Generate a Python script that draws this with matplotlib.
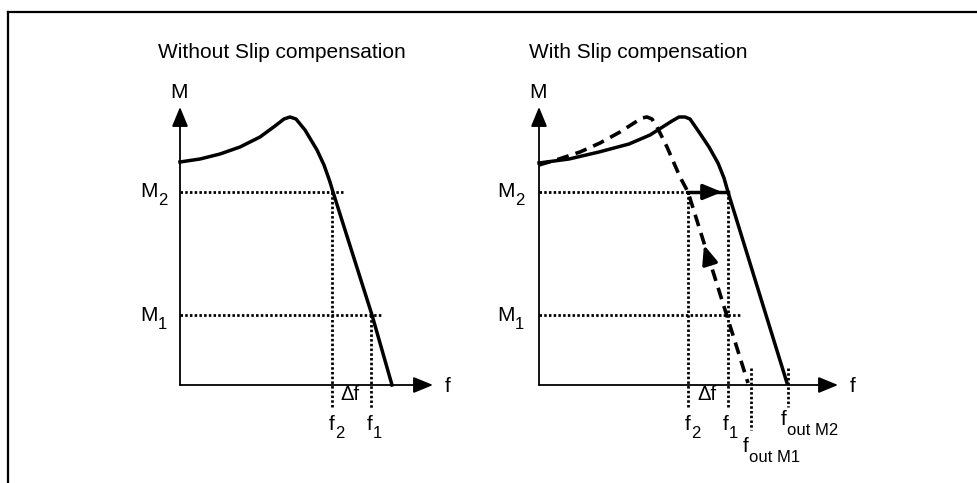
import matplotlib.pyplot as plt
from matplotlib.lines import Line2D

plt.rcParams['font.family'] = ['Liberation Sans', 'DejaVu Sans']

# torque curves (f, M) in diagram units, origin at the axis crossing
left_f = [0, 20, 40, 60, 80, 95, 104, 110, 116, 125, 137, 144, 150, 153, 192, 212]
left_M = [223, 226, 231, 238, 248, 259, 266, 268, 266, 255, 235, 220, 203, 193, 70, 0]

solid_f = [0, 30, 60, 90, 111, 122, 133, 140, 146, 151, 160, 170, 179, 185, 189, 248]
solid_M = [222, 226, 233, 241, 250, 257, 264, 268, 268, 266, 253, 238, 222, 207, 193, 2]

dash_f = [0, 20, 41, 61, 81, 95, 103, 108, 113, 118, 128, 141, 149, 209]
dash_M = [220, 226, 233, 242, 253, 262, 267, 268, 266, 258, 238, 208, 193, 2]

M1, M2 = 70, 193
left_f1, left_f2 = 191, 152
right_f1, right_f2 = 189, 149
f_out_M1, f_out_M2 = 212, 249

titles = ["Without Slip compensation", "With Slip compensation"]

fig = plt.figure(figsize=(9.77, 4.83), dpi=100)

# frame lines (top and left)
fig.add_artist(Line2D([8 / 977, 1], [1 - 12 / 483] * 2, color='black', lw=1.6))
fig.add_artist(Line2D([8 / 977] * 2, [0, 1 - 12 / 483], color='black', lw=1.6))

axL = fig.add_axes([0, 0, 488 / 977, 1])
axL.set_xlim(-180, 308)
axL.set_ylim(-98, 385)
axR = fig.add_axes([488 / 977, 0, 489 / 977, 1])
axR.set_xlim(-51, 438)
axR.set_ylim(-98, 385)

head = dict(arrowstyle='-|>,head_length=0.8,head_width=0.33', mutation_scale=15,
            color='black', lw=1.3, shrinkA=0, shrinkB=0)
dot = dict(color='black', lw=2.0, linestyle=(0, (0.9, 0.8)))
fs = 15


def sub_label(ax, x, y, main, sub, drop=3.0):
    t = ax.text(x, y, main, fontsize=fs, ha='left', va='baseline')
    ax.annotate(sub, xy=(1, 0), xycoords=t, xytext=(0.3, -drop),
                textcoords='offset points', fontsize=fs * 0.8,
                ha='left', va='baseline')


def axes_frame(ax, x_end, title, title_x, label_x):
    ax.set_axis_off()
    ax.annotate('', xy=(0, 278), xytext=(0, 0), arrowprops=head)
    ax.annotate('', xy=(x_end, 0), xytext=(0, 0), arrowprops=head)
    ax.text(-1, 292, 'M', fontsize=fs, ha='center', va='center')
    ax.text(x_end + 15, -2, 'f', fontsize=fs, ha='center', va='center')
    ax.text(title_x, 327, title, fontsize=fs, ha='left', va='baseline')
    sub_label(ax, label_x, M2 - 5, 'M', '2')
    sub_label(ax, label_x, M1 - 6, 'M', '1')


# left panel
axes_frame(axL, 253, titles[0], -22, -40)
axL.plot([0, 163], [M2, M2], **dot)
axL.plot([0, 203], [M1, M1], **dot)
axL.plot([left_f2, left_f2], [M2, -23], **dot)
axL.plot([left_f1, left_f1], [M1, -23], **dot)
axL.plot(left_f, left_M, color='black', lw=2.5, solid_joinstyle='round')
sub_label(axL, 149, -45, 'f', '2')
sub_label(axL, 187, -45, 'f', '1')
axL.text(170, -15, 'Δf', fontsize=14.5, ha='center', va='baseline')

# right panel
axes_frame(axR, 299, titles[1], -10, -42)
axR.plot([0, right_f2], [M2, M2], **dot)
axR.plot([0, 201], [M1, M1], **dot)
axR.plot([right_f2, right_f2], [M2, -23], **dot)
axR.plot([right_f1, right_f1], [M2, -23], **dot)
axR.plot([f_out_M1, f_out_M1], [17, -45], **dot)
axR.plot([f_out_M2, f_out_M2], [17, -22], **dot)
axR.plot(solid_f, solid_M, color='black', lw=2.5, solid_joinstyle='round')
axR.plot(dash_f, dash_M, color='black', lw=2.6, linestyle=(0, (3.3, 2)))
axR.plot([right_f2, right_f1], [M2, M2], color='black', lw=2.5)
axR.annotate('', xy=(183, M2), xytext=(163, M2),
             arrowprops=dict(head, lw=2.5, mutation_scale=14))
axR.annotate('', xy=(165, 140), xytext=(171, 121),
             arrowprops=dict(head, lw=2.5, mutation_scale=14))
sub_label(axR, 146, -45, 'f', '2')
sub_label(axR, 184, -45, 'f', '1')
axR.text(168, -15, 'Δf', fontsize=14.5, ha='center', va='baseline')
sub_label(axR, 204, -67, 'f', 'out M1', drop=4.5)
sub_label(axR, 242, -40, 'f', 'out M2', drop=4.5)

fig.savefig('out.png', dpi=100)
